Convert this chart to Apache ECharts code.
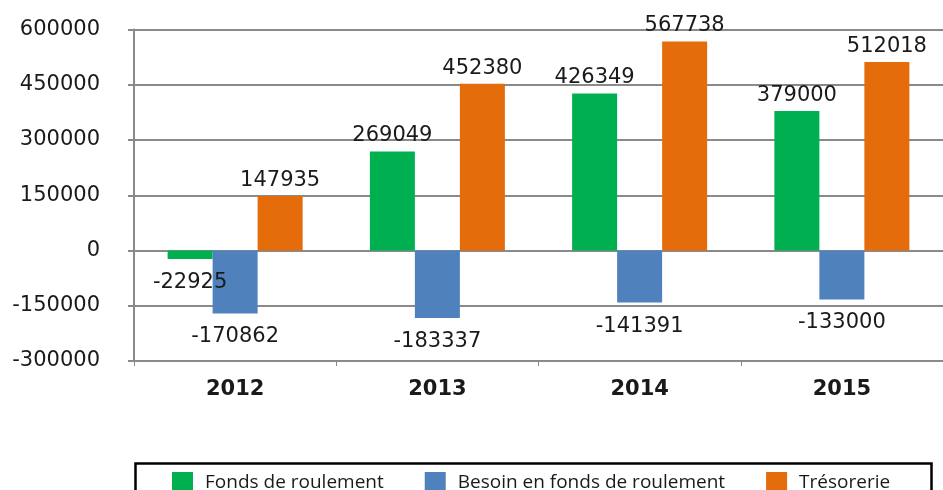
<!DOCTYPE html>
<html>
<head>
<meta charset="utf-8">
<script src="https://cdn.jsdelivr.net/npm/echarts@6/dist/echarts.min.js"></script>
<style>
  html, body { margin: 0; padding: 0; background: #fff; }
  #chart-container { width: 943px; height: 490px; }
</style>
</head>
<body>
<div id="chart-container"></div>
<script>
// données
var annees = ['2012', '2013', '2014', '2015'];
var fondsRoulement = [-22925, 269049, 426349, 379000];
var besoinFonds = [-170862, -183337, -141391, -133000];
var tresorerie = [147935, 452380, 567738, 512018];
var nomsSeries = ['Fonds de roulement', 'Besoin en fonds de roulement', 'Trésorerie'];
var couleurs = ['#00b050', '#4f81bd', '#e46c0a'];

var chart = echarts.init(document.getElementById('chart-container'));

function serie(nom, data, couleur) {
    return {
        name: nom,
        type: 'bar',
        // valeurs négatives : étiquette sous le bout de la barre
        data: data.map(function (v) {
            return v < 0 ? { value: v, label: { position: 'bottom', distance: 13 } } : v;
        }),
        barWidth: 45,
        barGap: '0%',
        itemStyle: { color: couleur },
        label: {
            show: true,
            position: 'top',
            distance: 5,
            fontFamily: 'DejaVu Sans',
            fontSize: 21,
            color: '#1a1a1a'
        }
    };
}

var option = {
    animation: false,
    color: couleurs,
    grid: { left: 134, top: 29.5, width: 815, height: 331.5 },
    legend: {
        left: 167,
        top: 467,
        itemWidth: 21,
        itemHeight: 21,
        itemGap: 41,
        icon: 'rect',
        data: nomsSeries,
        textStyle: {
            fontFamily: 'Open Sans',
            fontSize: 19,
            color: '#1a1a1a',
            padding: [0, 0, 0, 7]
        }
    },
    xAxis: {
        type: 'category',
        data: annees,
        axisLine: { onZero: false, lineStyle: { color: '#8a8a8a', width: 2 } },
        axisTick: { show: true, length: 5, lineStyle: { color: '#8a8a8a' } },
        axisLabel: {
            margin: 18,
            fontFamily: 'DejaVu Sans',
            fontWeight: 'bold',
            fontSize: 21,
            color: '#1a1a1a'
        }
    },
    yAxis: {
        type: 'value',
        min: -300000,
        max: 600000,
        interval: 150000,
        axisLine: { show: true, lineStyle: { color: '#8a8a8a', width: 2 } },
        axisTick: { show: true, length: 6, lineStyle: { color: '#8a8a8a', width: 2 } },
        splitLine: { lineStyle: { color: '#8a8a8a', width: 2 } },
        axisLabel: {
            margin: 34,
            fontFamily: 'DejaVu Sans',
            fontSize: 21,
            color: '#1a1a1a',
            formatter: function (v) { return String(v); }
        }
    },
    // cadre de la légende (coupé en bas dans l'original)
    graphic: [{
        type: 'rect',
        left: 133,
        top: 461,
        shape: { width: 796, height: 45 },
        style: { fill: 'none', stroke: '#000', lineWidth: 2.5 },
        z: 0
    }],
    series: [
        serie(nomsSeries[0], fondsRoulement, couleurs[0]),
        serie(nomsSeries[1], besoinFonds, couleurs[1]),
        serie(nomsSeries[2], tresorerie, couleurs[2])
    ]
};

chart.setOption(option);
</script>
</body>
</html>
